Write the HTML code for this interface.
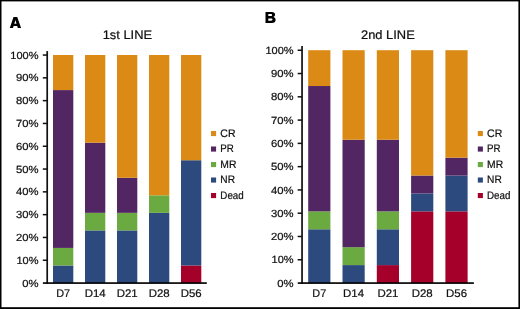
<!DOCTYPE html>
<html><head><meta charset="utf-8"><title>Figure</title>
<style>
html,body{margin:0;padding:0;background:#fff;}
body{width:520px;height:309px;overflow:hidden;}
svg{display:block;will-change:transform;text-rendering:geometricPrecision;font-family:"Liberation Sans",sans-serif;}
text{fill:#111;stroke:#111;stroke-width:0.22px;}
.pl{font-weight:bold;font-size:13.6px;stroke:#000;stroke-width:0.8px;stroke-linejoin:miter;fill:#000;}
</style></head><body>
<svg width="520" height="309" viewBox="0 0 520 309">
<rect x="0" y="0" width="520" height="309" fill="#fff"/>
<rect x="0" y="0" width="520" height="1.4" fill="#000"/>
<rect x="0" y="0" width="1.5" height="309" fill="#000"/>
<rect x="518.4" y="0" width="1.6" height="309" fill="#000"/>
<rect x="0" y="307.2" width="520" height="1.8" fill="#000"/>
<rect x="53.00" y="265.46" width="20.30" height="17.54" fill="#2D4A7E"/>
<rect x="53.00" y="247.92" width="20.30" height="17.54" fill="#6BAA41"/>
<rect x="53.00" y="90.08" width="20.30" height="157.85" fill="#522663"/>
<rect x="53.00" y="55.00" width="20.30" height="35.08" fill="#DB8A16"/>
<rect x="85.00" y="230.38" width="20.30" height="52.62" fill="#2D4A7E"/>
<rect x="85.00" y="212.85" width="20.30" height="17.54" fill="#6BAA41"/>
<rect x="85.00" y="142.69" width="20.30" height="70.15" fill="#522663"/>
<rect x="85.00" y="55.00" width="20.30" height="87.69" fill="#DB8A16"/>
<rect x="117.00" y="230.38" width="20.30" height="52.62" fill="#2D4A7E"/>
<rect x="117.00" y="212.85" width="20.30" height="17.54" fill="#6BAA41"/>
<rect x="117.00" y="177.77" width="20.30" height="35.08" fill="#522663"/>
<rect x="117.00" y="55.00" width="20.30" height="122.77" fill="#DB8A16"/>
<rect x="149.00" y="212.85" width="20.30" height="70.15" fill="#2D4A7E"/>
<rect x="149.00" y="195.31" width="20.30" height="17.54" fill="#6BAA41"/>
<rect x="149.00" y="55.00" width="20.30" height="140.31" fill="#DB8A16"/>
<rect x="181.00" y="265.46" width="20.30" height="17.54" fill="#A50029"/>
<rect x="181.00" y="160.23" width="20.30" height="105.23" fill="#2D4A7E"/>
<rect x="181.00" y="55.00" width="20.30" height="105.23" fill="#DB8A16"/>
<rect x="46.35" y="51.10" width="1.7" height="232.60" fill="#111"/>
<rect x="42.90" y="282.25" width="163.90" height="1.65" fill="#000"/>
<text transform="translate(38.50,286.65) scale(1.084,1)" text-anchor="end" font-size="10.4">0%</text>
<rect x="42.80" y="259.50" width="4.4" height="1.5" fill="#111"/>
<text transform="translate(38.50,263.85) scale(1.06,1)" text-anchor="end" font-size="10.4">10%</text>
<rect x="42.80" y="236.70" width="4.4" height="1.5" fill="#111"/>
<text transform="translate(38.50,241.05) scale(1.084,1)" text-anchor="end" font-size="10.4">20%</text>
<rect x="42.80" y="213.90" width="4.4" height="1.5" fill="#111"/>
<text transform="translate(38.50,218.25) scale(1.084,1)" text-anchor="end" font-size="10.4">30%</text>
<rect x="42.80" y="191.10" width="4.4" height="1.5" fill="#111"/>
<text transform="translate(38.50,195.45) scale(1.084,1)" text-anchor="end" font-size="10.4">40%</text>
<rect x="42.80" y="168.30" width="4.4" height="1.5" fill="#111"/>
<text transform="translate(38.50,172.65) scale(1.084,1)" text-anchor="end" font-size="10.4">50%</text>
<rect x="42.80" y="145.50" width="4.4" height="1.5" fill="#111"/>
<text transform="translate(38.50,149.85) scale(1.084,1)" text-anchor="end" font-size="10.4">60%</text>
<rect x="42.80" y="122.70" width="4.4" height="1.5" fill="#111"/>
<text transform="translate(38.50,127.05) scale(1.084,1)" text-anchor="end" font-size="10.4">70%</text>
<rect x="42.80" y="99.90" width="4.4" height="1.5" fill="#111"/>
<text transform="translate(38.50,104.25) scale(1.084,1)" text-anchor="end" font-size="10.4">80%</text>
<rect x="42.80" y="77.10" width="4.4" height="1.5" fill="#111"/>
<text transform="translate(38.50,81.45) scale(1.084,1)" text-anchor="end" font-size="10.4">90%</text>
<rect x="42.80" y="54.30" width="4.4" height="1.5" fill="#111"/>
<text transform="translate(38.50,58.65) scale(1.06,1)" text-anchor="end" font-size="10.4">100%</text>
<text transform="translate(63.15,297.00) scale(0.985,1)" text-anchor="middle" font-size="11.0">D7</text>
<text transform="translate(95.15,297.00) scale(1.04,1)" text-anchor="middle" font-size="11.0">D14</text>
<text transform="translate(127.15,297.00) scale(1.04,1)" text-anchor="middle" font-size="11.0">D21</text>
<text transform="translate(159.15,297.00) scale(1.04,1)" text-anchor="middle" font-size="11.0">D28</text>
<text transform="translate(191.15,297.00) scale(1.04,1)" text-anchor="middle" font-size="11.0">D56</text>
<text transform="translate(127.40,38.90) scale(1.04,1)" text-anchor="middle" font-size="12.4" stroke-width="0.32">1st LINE</text>
<rect x="308.20" y="229.28" width="22.20" height="53.72" fill="#2D4A7E"/>
<rect x="308.20" y="211.37" width="22.20" height="17.91" fill="#6BAA41"/>
<rect x="308.20" y="86.02" width="22.20" height="125.35" fill="#522663"/>
<rect x="308.20" y="50.20" width="22.20" height="35.82" fill="#DB8A16"/>
<rect x="342.50" y="265.09" width="22.20" height="17.91" fill="#2D4A7E"/>
<rect x="342.50" y="247.18" width="22.20" height="17.91" fill="#6BAA41"/>
<rect x="342.50" y="139.74" width="22.20" height="107.45" fill="#522663"/>
<rect x="342.50" y="50.20" width="22.20" height="89.54" fill="#DB8A16"/>
<rect x="376.80" y="265.09" width="22.20" height="17.91" fill="#A50029"/>
<rect x="376.80" y="229.28" width="22.20" height="35.82" fill="#2D4A7E"/>
<rect x="376.80" y="211.37" width="22.20" height="17.91" fill="#6BAA41"/>
<rect x="376.80" y="139.74" width="22.20" height="71.63" fill="#522663"/>
<rect x="376.80" y="50.20" width="22.20" height="89.54" fill="#DB8A16"/>
<rect x="411.10" y="211.37" width="22.20" height="71.63" fill="#A50029"/>
<rect x="411.10" y="193.46" width="22.20" height="17.91" fill="#2D4A7E"/>
<rect x="411.10" y="175.55" width="22.20" height="17.91" fill="#522663"/>
<rect x="411.10" y="50.20" width="22.20" height="125.35" fill="#DB8A16"/>
<rect x="445.40" y="211.37" width="22.20" height="71.63" fill="#A50029"/>
<rect x="445.40" y="175.55" width="22.20" height="35.82" fill="#2D4A7E"/>
<rect x="445.40" y="157.65" width="22.20" height="17.91" fill="#522663"/>
<rect x="445.40" y="50.20" width="22.20" height="107.45" fill="#DB8A16"/>
<rect x="301.20" y="46.00" width="1.7" height="237.70" fill="#111"/>
<rect x="297.75" y="282.25" width="176.15" height="1.65" fill="#000"/>
<text transform="translate(293.60,286.65) scale(1.084,1)" text-anchor="end" font-size="10.4">0%</text>
<rect x="297.65" y="259.02" width="4.4" height="1.5" fill="#111"/>
<text transform="translate(293.60,263.37) scale(1.06,1)" text-anchor="end" font-size="10.4">10%</text>
<rect x="297.65" y="235.74" width="4.4" height="1.5" fill="#111"/>
<text transform="translate(293.60,240.09) scale(1.084,1)" text-anchor="end" font-size="10.4">20%</text>
<rect x="297.65" y="212.46" width="4.4" height="1.5" fill="#111"/>
<text transform="translate(293.60,216.81) scale(1.084,1)" text-anchor="end" font-size="10.4">30%</text>
<rect x="297.65" y="189.18" width="4.4" height="1.5" fill="#111"/>
<text transform="translate(293.60,193.53) scale(1.084,1)" text-anchor="end" font-size="10.4">40%</text>
<rect x="297.65" y="165.90" width="4.4" height="1.5" fill="#111"/>
<text transform="translate(293.60,170.25) scale(1.084,1)" text-anchor="end" font-size="10.4">50%</text>
<rect x="297.65" y="142.62" width="4.4" height="1.5" fill="#111"/>
<text transform="translate(293.60,146.97) scale(1.084,1)" text-anchor="end" font-size="10.4">60%</text>
<rect x="297.65" y="119.34" width="4.4" height="1.5" fill="#111"/>
<text transform="translate(293.60,123.69) scale(1.084,1)" text-anchor="end" font-size="10.4">70%</text>
<rect x="297.65" y="96.06" width="4.4" height="1.5" fill="#111"/>
<text transform="translate(293.60,100.41) scale(1.084,1)" text-anchor="end" font-size="10.4">80%</text>
<rect x="297.65" y="72.78" width="4.4" height="1.5" fill="#111"/>
<text transform="translate(293.60,77.13) scale(1.084,1)" text-anchor="end" font-size="10.4">90%</text>
<rect x="297.65" y="49.50" width="4.4" height="1.5" fill="#111"/>
<text transform="translate(293.60,53.85) scale(1.06,1)" text-anchor="end" font-size="10.4">100%</text>
<text transform="translate(319.30,297.00) scale(0.985,1)" text-anchor="middle" font-size="11.0">D7</text>
<text transform="translate(353.60,297.00) scale(1.04,1)" text-anchor="middle" font-size="11.0">D14</text>
<text transform="translate(387.90,297.00) scale(1.04,1)" text-anchor="middle" font-size="11.0">D21</text>
<text transform="translate(422.20,297.00) scale(1.04,1)" text-anchor="middle" font-size="11.0">D28</text>
<text transform="translate(456.50,297.00) scale(1.04,1)" text-anchor="middle" font-size="11.0">D56</text>
<text transform="translate(387.90,38.90) scale(1.04,1)" text-anchor="middle" font-size="12.4" stroke-width="0.32">2nd LINE</text>
<rect x="211" y="131.00" width="5.1" height="5.1" fill="#DB8A16"/>
<text transform="translate(220.35,136.70) scale(0.964,1)" text-anchor="start" font-size="10.9">CR</text>
<rect x="211" y="146.50" width="5.1" height="5.1" fill="#522663"/>
<text transform="translate(220.35,152.20) scale(0.894,1)" text-anchor="start" font-size="10.9">PR</text>
<rect x="211" y="162.00" width="5.1" height="5.1" fill="#6BAA41"/>
<text transform="translate(220.35,167.70) scale(0.951,1)" text-anchor="start" font-size="10.9">MR</text>
<rect x="211" y="177.50" width="5.1" height="5.1" fill="#2D4A7E"/>
<text transform="translate(220.35,183.20) scale(0.933,1)" text-anchor="start" font-size="10.9">NR</text>
<rect x="211" y="193.00" width="5.1" height="5.1" fill="#A50029"/>
<text transform="translate(220.35,198.70) scale(0.897,1)" text-anchor="start" font-size="10.9">Dead</text>
<rect x="477.8" y="131.00" width="5.1" height="5.1" fill="#DB8A16"/>
<text transform="translate(487.05,136.70) scale(0.964,1)" text-anchor="start" font-size="10.9">CR</text>
<rect x="477.8" y="146.50" width="5.1" height="5.1" fill="#522663"/>
<text transform="translate(487.05,152.20) scale(0.894,1)" text-anchor="start" font-size="10.9">PR</text>
<rect x="477.8" y="162.00" width="5.1" height="5.1" fill="#6BAA41"/>
<text transform="translate(487.05,167.70) scale(0.951,1)" text-anchor="start" font-size="10.9">MR</text>
<rect x="477.8" y="177.50" width="5.1" height="5.1" fill="#2D4A7E"/>
<text transform="translate(487.05,183.20) scale(0.933,1)" text-anchor="start" font-size="10.9">NR</text>
<rect x="477.8" y="193.00" width="5.1" height="5.1" fill="#A50029"/>
<text transform="translate(487.05,198.70) scale(0.897,1)" text-anchor="start" font-size="10.9">Dead</text>
<path fill="#000" fill-rule="evenodd" d="M9.8,27.9 L13.5,16.9 L17.2,16.9 L21.1,27.9 L17.8,27.9 L17.2,25.9 L13.6,25.9 L13.0,27.9 Z M14.3,23.8 L16.5,23.8 L15.4,20.1 Z"/>
<path fill="#000" fill-rule="evenodd" d="M265.5,11.9 H271.6 C274.0,11.9 275.1,13.0 275.1,14.6 C275.1,15.9 274.4,16.7 273.4,17.1 C274.8,17.5 275.6,18.5 275.6,19.9 C275.6,21.8 274.2,22.9 271.8,22.9 H265.5 Z M268.3,14.1 H270.9 C271.7,14.1 272.1,14.5 272.1,15.1 C272.1,15.8 271.7,16.1 270.9,16.1 H268.3 Z M268.3,18.4 H271.1 C272.0,18.4 272.5,18.8 272.5,19.6 C272.5,20.3 272.0,20.7 271.1,20.7 H268.3 Z"/>
</svg>
</body></html>
